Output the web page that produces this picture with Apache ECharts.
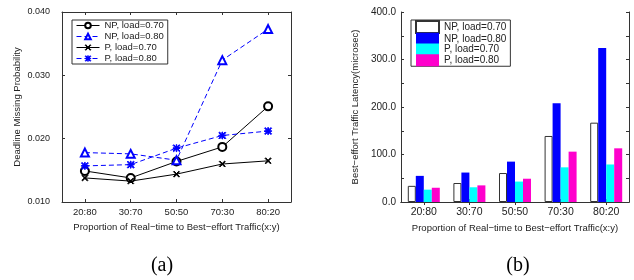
<!DOCTYPE html>
<html>
	<head>
		<meta charset="utf-8">
		<style>
			body { margin: 0; background: #fff; }
			#myChart { width: 634px; height: 280px; }
		</style>
	</head>
	<body>
		<div id="myChart"></div>
	</body>
	<script src="https://cdn.jsdelivr.net/npm/echarts@6/dist/echarts.min.js"></script>
	<script type="text/javascript">
		var categories = ['20:80', '30:70', '50:50', '70:30', '80:20'];
		var seriesNames = ['NP, load=0.70', 'NP, load=0.80', 'P, load=0.70', 'P, load=0.80'];

		// (a) deadline missing probability
		var npLoad70Prob = [0.0149, 0.0138, 0.0164, 0.0187, 0.0251];
		var npLoad80Prob = [0.0178, 0.0176, 0.0166, 0.0324, 0.0373];
		var pLoad70Prob = [0.0138, 0.0133, 0.0144, 0.0160, 0.0165];
		var pLoad80Prob = [0.0157, 0.0159, 0.0185, 0.0205, 0.0212];

		// (b) best-effort latency (microsec)
		var npLoad70Lat = [34, 40, 61, 139, 167];
		var npLoad80Lat = [55, 62, 85, 208, 324];
		var pLoad70Lat = [26, 31, 43, 73, 79];
		var pLoad80Lat = [30, 35, 49, 106, 113];

		var probTicks = [0.010, 0.020, 0.030, 0.040];
		var latTicks = [0, 100, 200, 300, 400];

		var ctx1 = echarts.init(document.getElementById('myChart'));

		var axisCol = '#333';
		var textCol = '#222';
		var font = 'Liberation Sans, Arial, sans-serif';
		var xMark = 'path://M0,1L1,0L10,9L9,10Z M9,0L10,1L1,10L0,9Z';
		var starMark = 'path://M4.5,0L5.5,0L5.5,10L4.5,10Z M0,4.5L10,4.5L10,5.5L0,5.5Z M0,1L1,0L10,9L9,10Z M9,0L10,1L1,10L0,9Z';

		function catAxis(grid, pos, showLabel, labelSize, name) {
			return {
				type: 'category', gridIndex: grid, position: pos, data: categories,
				boundaryGap: true,
				axisLine: { lineStyle: { color: axisCol, width: 1 } },
				axisTick: { show: true, inside: true, length: 3, alignWithLabel: true, lineStyle: { color: axisCol } },
				axisLabel: { show: showLabel, color: textCol, fontSize: labelSize, fontFamily: font, margin: 5 },
				name: name || '', nameLocation: 'middle', nameGap: 15,
				nameTextStyle: { color: textCol, fontSize: 9.5, fontFamily: font }
			};
		}

		function valAxis(grid, pos, cfg) {
			var ax = {
				type: 'value', gridIndex: grid, position: pos,
				min: cfg.min, max: cfg.max, interval: cfg.interval,
				splitLine: { show: false },
				axisLine: { show: true, lineStyle: { color: axisCol, width: 1 } },
				axisTick: { show: true, inside: true, length: 3, lineStyle: { color: axisCol } },
				axisLabel: { show: pos === 'left', color: textCol, fontSize: cfg.labelSize, fontFamily: font,
					margin: cfg.margin, formatter: cfg.formatter },
				name: pos === 'left' ? cfg.name : '', nameLocation: 'middle', nameGap: cfg.nameGap,
				nameTextStyle: { color: textCol, fontSize: 9.5, fontFamily: font }
			};
			if (cfg.minor) {
				ax.minorTick = { show: true, splitNumber: 2, length: 3, lineStyle: { color: axisCol } };
			}
			return ax;
		}

		var probCfg = {
			min: probTicks[0], max: probTicks[probTicks.length - 1], interval: 0.01,
			labelSize: 9, margin: 12, nameGap: 40, name: 'Deadline Missing Probability',
			formatter: function (v) { return v.toFixed(3); }
		};
		var latCfg = {
			min: latTicks[0], max: latTicks[latTicks.length - 1], interval: 100,
			labelSize: 10, margin: 5, nameGap: 41, name: 'Best\u2212effort Traffic Latency(microsec)',
			formatter: function (v) { return v.toFixed(1); }, minor: true
		};

		var xName = 'Proportion of Real\u2212time to Best\u2212effort Traffic(x:y)';

		function lineSeries(name, data, color, dashed, symbol, size) {
			return {
				name: name, type: 'line', xAxisIndex: 0, yAxisIndex: 0, data: data,
				symbol: symbol, symbolSize: size, showSymbol: true,
				itemStyle: { color: color, borderColor: color, borderWidth: 1 },
				lineStyle: { color: color, width: 1, type: dashed ? [5, 3] : 'solid' },
				emphasis: { disabled: true }
			};
		}

		function barSeries(name, data, color, border) {
			return {
				name: name + ' (b)', type: 'bar', xAxisIndex: 2, yAxisIndex: 2, data: data,
				barWidth: 8, barGap: '0%',
				itemStyle: { color: color, borderColor: border || color, borderWidth: border ? 1 : 0 },
				emphasis: { disabled: true }
			};
		}

		var option = {
			animation: false,
			backgroundColor: '#fff',
			grid: [
				{ left: 62, right: 343, top: 12, bottom: 78 },
				{ left: 401, right: 5, top: 12, bottom: 78 }
			],
			legend: [
				{
					orient: 'vertical', left: 72, top: 20,
					data: seriesNames,
					itemWidth: 23, itemHeight: 7, itemGap: 0,
					padding: [0, 4, 0, 4],
					borderColor: axisCol, borderWidth: 1,
					lineStyle: { width: 1 },
					itemStyle: { borderWidth: 1 },
					textStyle: { color: textCol, fontSize: 9.5, fontFamily: font, lineHeight: 11 },
					selectedMode: false
				},
				{
					orient: 'vertical', left: 411, top: 20,
					data: seriesNames.map(function (n) { return { name: n + ' (b)', icon: 'rect' }; }),
					formatter: function (n) { return n.replace(' (b)', ''); },
					itemWidth: 23, itemHeight: 12, itemGap: -1.25,
					padding: [0, 4, 0, 4],
					borderColor: axisCol, borderWidth: 1,
					textStyle: { color: textCol, fontSize: 10, fontFamily: font, lineHeight: 11.25 },
					selectedMode: false
				}
			],
			xAxis: [
				catAxis(0, 'bottom', true, 9.5, xName),
				catAxis(0, 'top', false, 9.5),
				catAxis(1, 'bottom', true, 10.5, xName),
				catAxis(1, 'top', false, 10.5)
			],
			yAxis: [
				valAxis(0, 'left', probCfg),
				valAxis(0, 'right', probCfg),
				valAxis(1, 'left', latCfg),
				valAxis(1, 'right', latCfg)
			],
			series: [
				lineSeries(seriesNames[0], npLoad70Prob, '#000', false, 'emptyCircle', 8),
				lineSeries(seriesNames[1], npLoad80Prob, '#0000ff', true, 'emptyTriangle', 8),
				lineSeries(seriesNames[2], pLoad70Prob, '#000', false, xMark, 6),
				lineSeries(seriesNames[3], pLoad80Prob, '#0000ff', true, starMark, 7),
				barSeries(seriesNames[0], npLoad70Lat, '#ffffff', '#333'),
				barSeries(seriesNames[1], npLoad80Lat, '#0000ff'),
				barSeries(seriesNames[2], pLoad70Lat, '#00ffff'),
				barSeries(seriesNames[3], pLoad80Lat, '#ff00cc')
			],
			graphic: [
				{ type: 'text', x: 162, y: 266, style: { text: '(a)', fill: '#000', font: '20px "Liberation Serif", "Times New Roman", serif', align: 'center', verticalAlign: 'middle' } },
				{ type: 'text', x: 518, y: 266, style: { text: '(b)', fill: '#000', font: '20px "Liberation Serif", "Times New Roman", serif', align: 'center', verticalAlign: 'middle' } }
			]
		};

		ctx1.setOption(option);
	</script>
</html>
